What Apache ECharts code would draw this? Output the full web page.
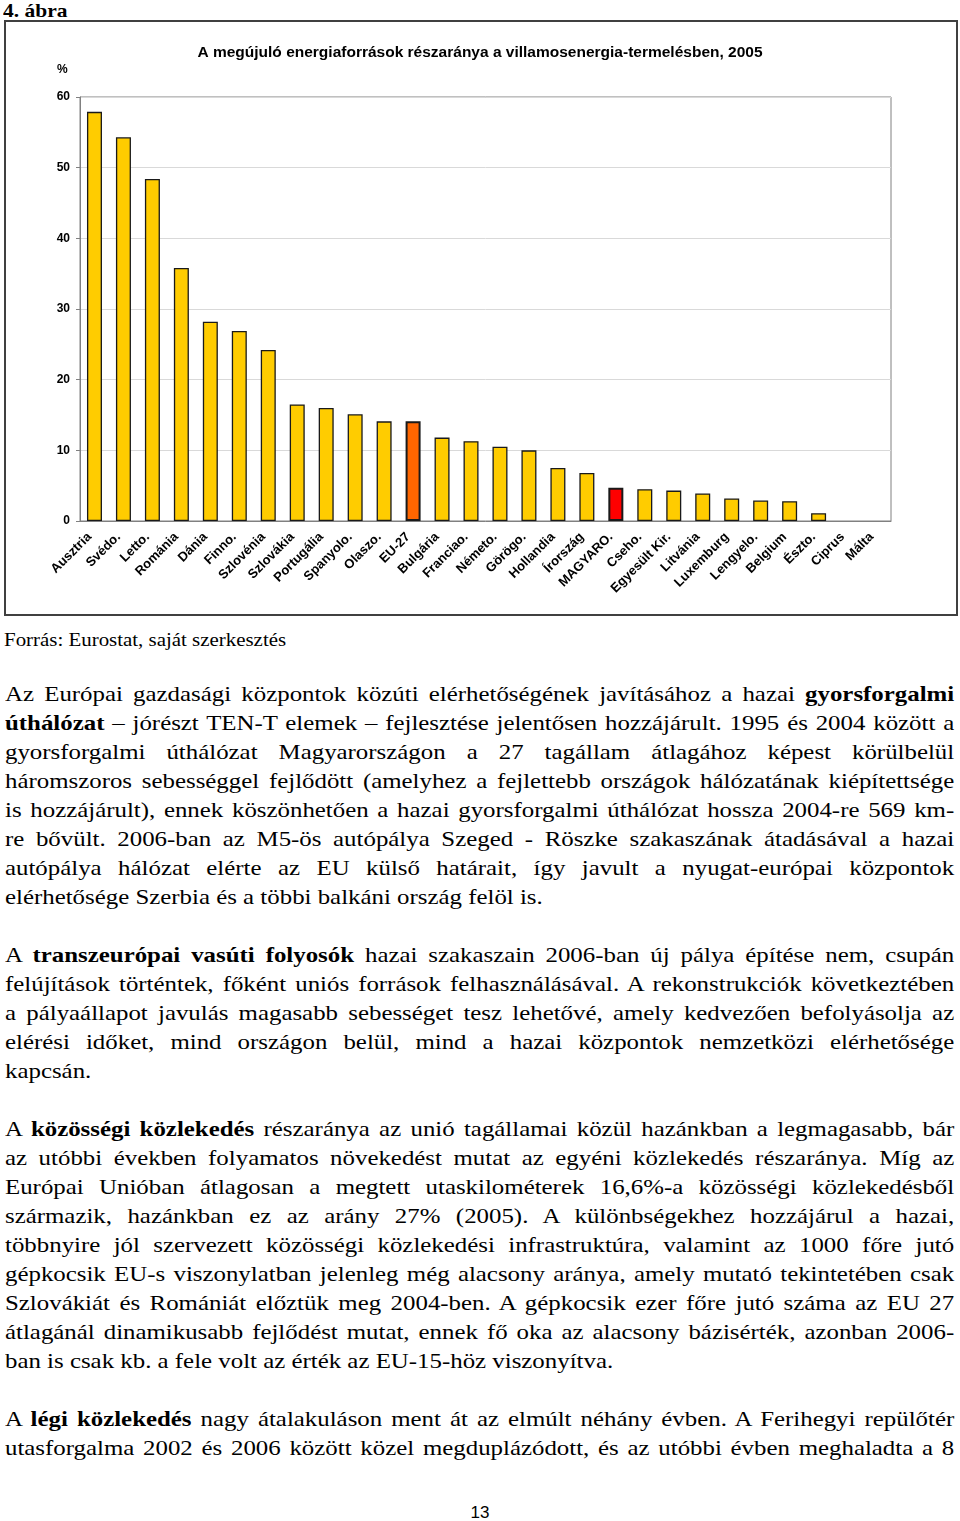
<!DOCTYPE html>
<html>
<head>
<meta charset="utf-8">
<script src="https://cdn.jsdelivr.net/npm/echarts@6/dist/echarts.min.js"></script>
<style>
  html, body { margin: 0; padding: 0; background: #fff; }
  body { width: 960px; height: 1521px; position: relative; overflow: hidden; }
  .sx { transform: scaleX(1.13); transform-origin: 0 0; }
  #fig { position: absolute; left: 3px; top: 0px; font: bold 19px "Liberation Serif", serif; color: #000; }
  #box { position: absolute; left: 4px; top: 20px; width: 950px; height: 592px; border: 2px solid #404040; }
  #chart { position: absolute; left: 0; top: 0; width: 960px; height: 620px; }
  #src { position: absolute; left: 4px; top: 630px; font: 18.5px "Liberation Serif", serif; color: #000; white-space: nowrap; }
  .p { position: absolute; left: 5px; width: 840px; font-family: "Liberation Serif", serif; font-size: 22px; color: #000; }
  .p div { height: 29px; line-height: 29px; white-space: nowrap; text-align: justify; text-align-last: justify; }
  .p div.l { text-align: left; text-align-last: left; }
  #pg { position: absolute; left: 0; width: 960px; top: 1503px; text-align: center; font: 17px "Liberation Sans", sans-serif; }
</style>
</head>
<body>
<div id="fig" class="sx">4. ábra</div>
<div id="box"></div>
<div id="chart"></div>
<div id="src" class="sx">Forrás: Eurostat, saját szerkesztés</div>

<div class="p sx" style="top:679px">
<div>Az Európai gazdasági központok közúti elérhetőségének javításához a hazai <b>gyorsforgalmi</b></div>
<div><b>úthálózat</b> – jórészt TEN-T elemek – fejlesztése jelentősen hozzájárult. 1995 és 2004 között a</div>
<div>gyorsforgalmi úthálózat Magyarországon a 27 tagállam átlagához képest körülbelül</div>
<div>háromszoros sebességgel fejlődött (amelyhez a fejlettebb országok hálózatának kiépítettsége</div>
<div>is hozzájárult), ennek köszönhetően a hazai gyorsforgalmi úthálózat hossza 2004-re 569 km-</div>
<div>re bővült. 2006-ban az M5-ös autópálya Szeged - Röszke szakaszának átadásával a hazai</div>
<div>autópálya hálózat elérte az EU külső határait, így javult a nyugat-európai központok</div>
<div class="l">elérhetősége Szerbia és a többi balkáni ország felöl is.</div>
</div>

<div class="p sx" style="top:940px">
<div>A <b>transzeurópai vasúti folyosók</b> hazai szakaszain 2006-ban új pálya építése nem, csupán</div>
<div>felújítások történtek, főként uniós források felhasználásával. A rekonstrukciók következtében</div>
<div>a pályaállapot javulás magasabb sebességet tesz lehetővé, amely kedvezően befolyásolja az</div>
<div>elérési időket, mind országon belül, mind a hazai központok nemzetközi elérhetősége</div>
<div class="l">kapcsán.</div>
</div>

<div class="p sx" style="top:1114px">
<div>A <b>közösségi közlekedés</b> részaránya az unió tagállamai közül hazánkban a legmagasabb, bár</div>
<div>az utóbbi években folyamatos növekedést mutat az egyéni közlekedés részaránya. Míg az</div>
<div>Európai Unióban átlagosan a megtett utaskilométerek 16,6%-a közösségi közlekedésből</div>
<div>származik, hazánkban ez az arány 27% (2005). A különbségekhez hozzájárul a hazai,</div>
<div>többnyire jól szervezett közösségi közlekedési infrastruktúra, valamint az 1000 főre jutó</div>
<div>gépkocsik EU-s viszonylatban jelenleg még alacsony aránya, amely mutató tekintetében csak</div>
<div>Szlovákiát és Romániát előztük meg 2004-ben. A gépkocsik ezer főre jutó száma az EU 27</div>
<div>átlagánál dinamikusabb fejlődést mutat, ennek fő oka az alacsony bázisérték, azonban 2006-</div>
<div class="l">ban is csak kb. a fele volt az érték az EU-15-höz viszonyítva.</div>
</div>

<div class="p sx" style="top:1404px">
<div>A <b>légi közlekedés</b> nagy átalakuláson ment át az elmúlt néhány évben. A Ferihegyi repülőtér</div>
<div>utasforgalma 2002 és 2006 között közel megduplázódott, és az utóbbi évben meghaladta a 8</div>
</div>

<div id="pg">13</div>

<script>
const categories = ['Ausztria','Svédo.','Letto.','Románia','Dánia','Finno.','Szlovénia','Szlovákia','Portugália','Spanyolo.','Olaszo.','EU-27','Bulgária','Franciao.','Németo.','Görögo.','Hollandia','Írország','MAGYARO.','Cseho.','Egyesült Kir.','Litvánia','Luxemburg','Lengyelo.','Belgium','Észto.','Ciprus','Málta'];
const values = [57.9, 54.3, 48.4, 35.8, 28.2, 26.9, 24.2, 16.5, 16.0, 15.1, 14.1, 14.1, 11.8, 11.3, 10.5, 10.0, 7.5, 6.8, 4.7, 4.5, 4.3, 3.9, 3.2, 2.9, 2.8, 1.1, 0, 0];
const yTicks = [0, 10, 20, 30, 40, 50, 60];
const highlight = { 'EU-27': '#FF6600', 'MAGYARO.': '#FF0000' };

const chart = echarts.init(document.getElementById('chart'), null, { renderer: 'canvas' });
const sans = '"Liberation Sans", Arial, sans-serif';

const barData = values.map(function (v, i) {
  const name = categories[i];
  const item = { value: v, itemStyle: {} };
  if (highlight[name]) { item.itemStyle.color = highlight[name]; item.itemStyle.borderWidth = 2; }
  if (v === 0) { item.itemStyle.borderWidth = 0; }
  return item;
});

chart.setOption({
  backgroundColor: 'transparent',
  animation: false,
  title: {
    text: 'A megújuló energiaforrások részaránya a villamosenergia-termelésben, 2005',
    left: 'center', top: 40,
    textStyle: { fontFamily: sans, fontWeight: 'bold', fontSize: 15.5, color: '#000' }
  },
  graphic: [{
    type: 'text', left: 57, top: 64,
    style: { text: '%', font: 'bold 12px ' + sans, fill: '#000' }
  }],
  grid: { left: 80, right: 69, top: 97, bottom: 99, show: true, borderColor: '#808080', borderWidth: 1 },
  xAxis: {
    type: 'category', data: categories,
    axisLine: { lineStyle: { color: '#808080', width: 1 } },
    axisTick: { length: 5, lineStyle: { color: '#808080' } },
    axisLabel: { interval: 0, rotate: 45, margin: 9, padding: [0, 7, 0, 0], fontFamily: sans, fontWeight: 'bold', fontSize: 13, color: '#000' }
  },
  yAxis: {
    type: 'value', min: yTicks[0], max: yTicks[yTicks.length - 1], interval: 10,
    axisLine: { show: true, lineStyle: { color: '#808080', width: 1 } },
    axisTick: { show: true, length: 4, lineStyle: { color: '#808080' } },
    axisLabel: { margin: 10, fontFamily: sans, fontWeight: 'bold', fontSize: 12, color: '#000' },
    splitLine: { lineStyle: { color: '#d9d9d9', width: 1 } }
  },
  series: [{
    type: 'bar', data: barData, barWidth: 15,
    itemStyle: { color: '#FFCC00', borderColor: '#1a1a1a', borderWidth: 1.3 }
  }]
});
</script>
</body>
</html>
